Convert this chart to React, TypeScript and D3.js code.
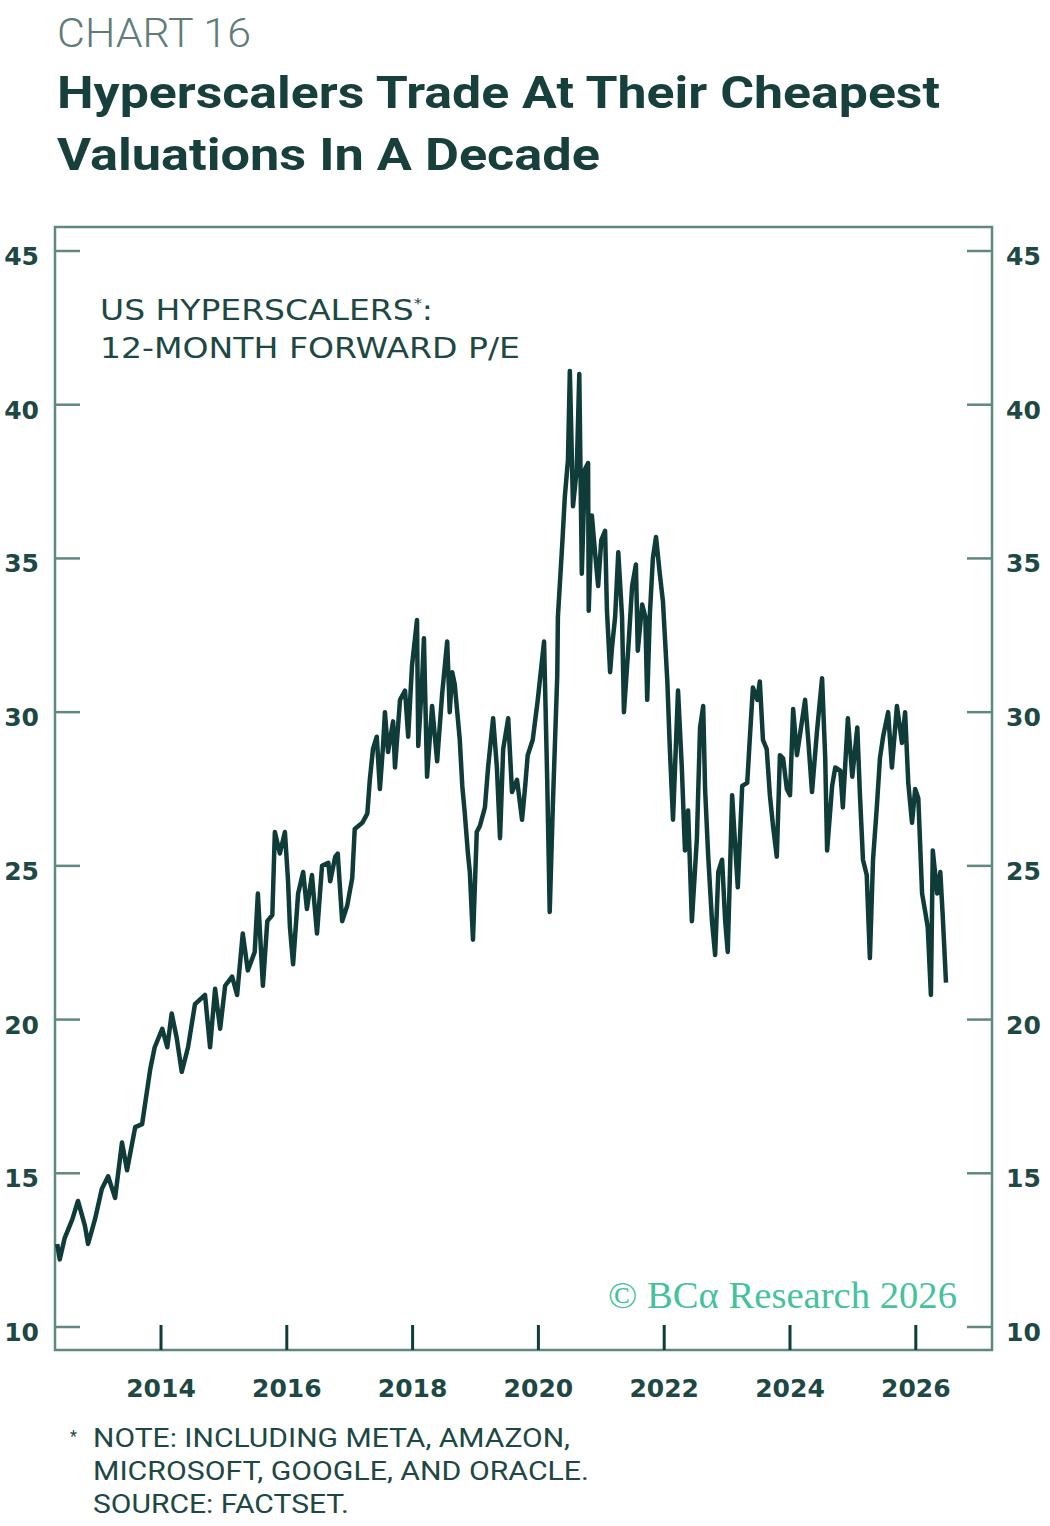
import * as d3 from "d3";

// 12-month forward P/E of US hyperscalers (decimal years)
const dates2012 = [
  2012.35, 2012.39, 2012.47, 2012.59, 2012.68, 2012.79, 2012.84, 2012.95, 2013.06, 2013.16,
  2013.27, 2013.38, 2013.46, 2013.59, 2013.7, 2013.75, 2013.83, 2013.9, 2014.02, 2014.1,
  2014.17, 2014.25, 2014.33, 2014.43, 2014.54, 2014.7, 2014.78, 2014.86, 2014.94, 2015.02,
  2015.13, 2015.21, 2015.3, 2015.38, 2015.49, 2015.54, 2015.62, 2015.69, 2015.77, 2015.81,
  2015.89, 2015.97,
];
const pe2012 = [
  12.7, 12.2, 12.9, 13.5, 14.1, 13.3, 12.7, 13.5, 14.5, 14.9,
  14.2, 16.0, 15.1, 16.5, 16.6, 17.3, 18.4, 19.1, 19.7, 19.1,
  20.2, 19.4, 18.3, 19.1, 20.5, 20.8, 19.1, 21.0, 19.7, 21.1,
  21.4, 20.8, 22.8, 21.6, 22.2, 24.1, 21.1, 23.2, 23.4, 26.1,
  25.4, 26.1,
];

const dates2016 = [
  2016.02, 2016.05, 2016.1, 2016.18, 2016.26, 2016.32, 2016.4, 2016.48, 2016.56, 2016.66,
  2016.69, 2016.77, 2016.81, 2016.88, 2016.96, 2017.04, 2017.08, 2017.2, 2017.28, 2017.32,
  2017.37, 2017.43, 2017.48, 2017.53, 2017.56, 2017.61, 2017.69, 2017.72, 2017.8, 2017.88,
  2017.93, 2017.99, 2018.07, 2018.09, 2018.15, 2018.18, 2018.23, 2018.31, 2018.39, 2018.47,
  2018.55, 2018.59, 2018.63, 2018.67, 2018.75, 2018.79, 2018.83, 2018.88, 2018.91, 2018.96,
];
const pe2016 = [
  24.5, 23.0, 21.8, 24.1, 24.8, 23.6, 24.7, 22.8, 25.0, 25.1,
  24.5, 25.3, 25.4, 23.2, 23.7, 24.6, 26.2, 26.4, 26.7, 27.8,
  28.8, 29.2, 27.5, 28.9, 30.0, 28.7, 29.7, 28.2, 30.4, 30.7,
  29.2, 31.5, 33.0, 28.9, 31.0, 32.4, 27.9, 30.2, 28.4, 30.6,
  32.3, 30.0, 31.3, 30.9, 29.1, 27.6, 26.7, 25.4, 24.8, 22.6,
];

const dates2019 = [
  2019.02, 2019.07, 2019.15, 2019.2, 2019.28, 2019.34, 2019.39, 2019.44, 2019.52, 2019.58,
  2019.66, 2019.74, 2019.79, 2019.83, 2019.91, 2019.99, 2020.09, 2020.14, 2020.18, 2020.23,
  2020.3, 2020.31, 2020.38, 2020.42, 2020.47, 2020.5, 2020.55, 2020.61, 2020.65, 2020.69,
  2020.74, 2020.79, 2020.8, 2020.85, 2020.9, 2020.95, 2021.0, 2021.06, 2021.09, 2021.14,
  2021.17, 2021.22, 2021.27, 2021.33, 2021.36, 2021.43, 2021.49, 2021.55, 2021.58, 2021.65,
  2021.7, 2021.73, 2021.77, 2021.82, 2021.87, 2021.93, 2021.98,
];
const pe2019 = [
  26.1, 26.3, 26.9, 28.2, 29.8, 28.2, 25.9, 28.8, 29.8, 27.4,
  27.8, 26.5, 27.6, 28.6, 29.1, 30.4, 32.3, 27.8, 23.5, 27.0,
  31.2, 33.1, 35.5, 37.0, 38.2, 41.1, 36.7, 37.9, 41.0, 34.5,
  37.9, 38.1, 33.3, 36.4, 35.2, 34.1, 35.6, 35.9, 33.3, 31.3,
  32.1, 33.1, 35.2, 33.1, 30.0, 32.1, 34.1, 34.8, 32.0, 33.5,
  33.1, 30.4, 33.1, 35.0, 35.7, 34.5, 33.6,
];

const dates2022 = [
  2022.05, 2022.09, 2022.14, 2022.22, 2022.28, 2022.33, 2022.38, 2022.44, 2022.52, 2022.57,
  2022.62, 2022.65, 2022.7, 2022.76, 2022.81, 2022.86, 2022.92, 2022.97, 2023.01, 2023.08,
  2023.13, 2023.17, 2023.24, 2023.32, 2023.36, 2023.41, 2023.48, 2023.52, 2023.57, 2023.63,
  2023.68, 2023.73, 2023.79, 2023.84, 2023.89, 2023.95,
];
const pe2022 = [
  31.0, 28.8, 26.5, 30.7, 28.2, 25.5, 26.8, 23.2, 25.9, 29.5,
  30.2, 27.5, 25.3, 23.2, 22.1, 24.8, 25.2, 23.2, 22.2, 27.3,
  25.6, 24.3, 27.6, 27.7, 29.1, 30.8, 30.4, 31.0, 29.1, 28.8,
  27.3, 26.3, 25.3, 28.6, 28.5, 27.5,
];

const dates2024 = [
  2024.0, 2024.05, 2024.11, 2024.19, 2024.24, 2024.29, 2024.35, 2024.43, 2024.51, 2024.56,
  2024.59, 2024.67, 2024.72, 2024.8, 2024.84, 2024.92, 2024.99, 2025.07, 2025.11, 2025.16,
  2025.22, 2025.27, 2025.32, 2025.38, 2025.43, 2025.48, 2025.56, 2025.62, 2025.7, 2025.78,
  2025.83, 2025.88, 2025.94, 2025.99, 2026.04, 2026.1, 2026.15, 2026.19, 2026.24, 2026.27,
  2026.34, 2026.39, 2026.43, 2026.48,
];
const pe2024 = [
  27.3, 30.1, 28.6, 29.7, 30.4, 29.1, 27.4, 29.4, 31.1, 28.5,
  25.5, 27.6, 28.2, 28.1, 26.9, 29.8, 27.9, 29.5, 27.4, 25.2,
  24.7, 22.0, 25.2, 26.9, 28.5, 29.2, 30.0, 28.2, 30.2, 29.0,
  30.0, 27.7, 26.4, 27.5, 27.2, 24.1, 23.5, 23.0, 20.8, 25.5,
  24.1, 24.8, 23.3, 21.2,
];

const yTicks = [10, 15, 20, 25, 30, 35, 40, 45];
const xTicks = [2014, 2016, 2018, 2020, 2022, 2024, 2026];
const footnotes = [
  "NOTE: INCLUDING META, AMAZON,",
  "MICROSOFT, GOOGLE, AND ORACLE.",
  "SOURCE: FACTSET.",
];

const allDates = [...dates2012, ...dates2016, ...dates2019, ...dates2022, ...dates2024];
const allPe = [...pe2012, ...pe2016, ...pe2019, ...pe2022, ...pe2024];
const series = allDates.map((d, i) => ({ date: d, pe: allPe[i] }));

const W = 1050;
const H = 1526;
const frame = { left: 55, top: 227, right: 992, bottom: 1350 };

const x = d3.scaleLinear().domain([2012, 2026]).range([35.2, 915.8]);
const y = d3.scaleLinear().domain([10, 45]).range([1327, 251]);

const dark = "#173f3b";
const textCol = "#1d4843";
const frameCol = "#5e8880";
const lineCol = "#0f3b38";
const numFont = "'DejaVu Sans', sans-serif";

const App = () => {
  const line = d3
    .line<{ date: number; pe: number }>()
    .x((d) => x(d.date))
    .y((d) => y(d.pe));

  return (
    <svg
      width={W}
      height={H}
      viewBox={`0 0 ${W} ${H}`}
      style={{ position: "absolute", left: 0, top: 0, background: "#fff" }}
    >
      <text x={57} y={47} fontFamily="Roboto, sans-serif" fontWeight={300} fontSize={41} fill="#5f7d78"
        textLength={194} lengthAdjust="spacingAndGlyphs">
        CHART 16
      </text>
      <text x={57} y={108} fontFamily="Roboto, sans-serif" fontWeight={700} fontSize={45} fill={dark}
        textLength={883} lengthAdjust="spacingAndGlyphs">
        Hyperscalers Trade At Their Cheapest
      </text>
      <text x={57} y={170} fontFamily="Roboto, sans-serif" fontWeight={700} fontSize={45} fill={dark}
        textLength={543} lengthAdjust="spacingAndGlyphs">
        Valuations In A Decade
      </text>

      <rect
        x={frame.left}
        y={frame.top}
        width={frame.right - frame.left}
        height={frame.bottom - frame.top}
        fill="none"
        stroke={frameCol}
        strokeWidth={2.5}
      />

      {yTicks.map((t) => (
        <g key={`y${t}`}>
          <line x1={frame.left} x2={frame.left + 25} y1={y(t)} y2={y(t)} stroke={frameCol} strokeWidth={2.5} />
          <line x1={frame.right - 25} x2={frame.right} y1={y(t)} y2={y(t)} stroke={frameCol} strokeWidth={2.5} />
          <text x={39} y={y(t) + 14} textAnchor="end" fontFamily={numFont} fontWeight={600} fontSize={25} fill={textCol}>
            {t}
          </text>
          <text x={1006} y={y(t) + 14} textAnchor="start" fontFamily={numFont} fontWeight={600} fontSize={25} fill={textCol}>
            {t}
          </text>
        </g>
      ))}

      {xTicks.map((t) => (
        <g key={`x${t}`}>
          <line x1={x(t)} x2={x(t)} y1={frame.bottom} y2={frame.bottom - 25} stroke={lineCol} strokeWidth={3} />
          <text x={x(t)} y={1397} textAnchor="middle" fontFamily={numFont} fontWeight={600} fontSize={25} fill={textCol}>
            {t}
          </text>
        </g>
      ))}

      <text x={100} y={320} fontFamily={numFont} fontSize={28} fill={textCol} textLength={333} lengthAdjust="spacingAndGlyphs">
        US HYPERSCALERS<tspan fontSize={14} dy={-12}>*</tspan><tspan dy={12}>:</tspan>
      </text>
      <text x={100} y={358} fontFamily={numFont} fontSize={28} fill={textCol} textLength={420} lengthAdjust="spacingAndGlyphs">
        12-MONTH FORWARD P/E
      </text>

      <path
        d={line(series) ?? ""}
        fill="none"
        stroke={lineCol}
        strokeWidth={4.5}
        strokeLinejoin="round"
      />

      <text x={957} y={1308} textAnchor="end" fontFamily="'Liberation Serif', serif" fontSize={37} fill="#45c29c"
        textLength={349} lengthAdjust="spacingAndGlyphs">
        © BCα Research 2026
      </text>

      <text x={70} y={1442} fontFamily="Roboto, sans-serif" fontSize={16} fill={textCol}>*</text>
      {footnotes.map((f, i) => (
        <text key={f} x={93} y={1447 + i * 33} fontFamily="Roboto, sans-serif" fontSize={26} fill={textCol}
          textLength={[477, 496, 256][i]} lengthAdjust="spacingAndGlyphs">
          {f}
        </text>
      ))}
    </svg>
  );
};

export default App;
